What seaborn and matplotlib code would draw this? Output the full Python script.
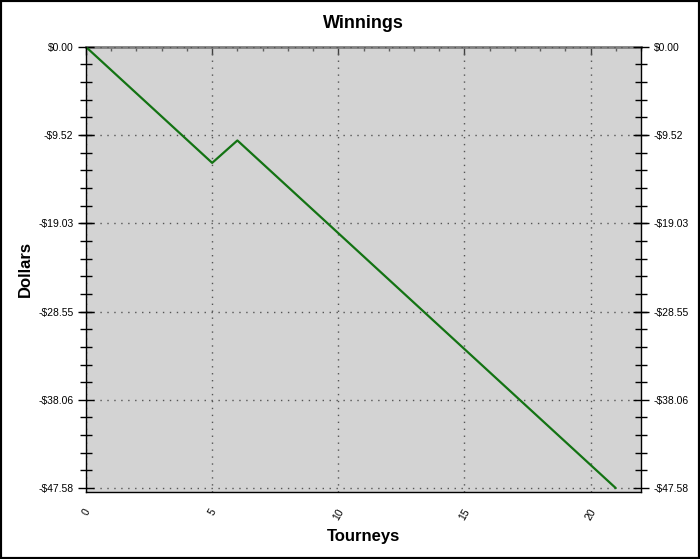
import pandas as pd
import matplotlib
matplotlib.use("Agg")
import matplotlib.pyplot as plt
from matplotlib.patches import Rectangle
from matplotlib.ticker import FixedLocator, MultipleLocator, AutoMinorLocator
import seaborn as sns

# Datos
tourneys = list(range(22))
winnings = [0.00, -2.50, -5.00, -7.50, -10.00, -12.50, -10.08, -12.58, -15.08,
            -17.58, -20.08, -22.58, -25.08, -27.58, -30.08, -32.58, -35.08,
            -37.58, -40.08, -42.58, -45.08, -47.58]
y_ticks = [0.00, -9.52, -19.03, -28.55, -38.06, -47.58]
y_labels = ["$0.00", "-$9.52", "-$19.03", "-$28.55", "-$38.06", "-$47.58"]
x_ticks = [0, 5, 10, 15, 20]

df = pd.DataFrame({"tourney": tourneys, "winnings": winnings})

sns.set_theme(style="white")
plt.rcParams["font.family"] = ["Liberation Sans", "DejaVu Sans"]
plt.rcParams["text.color"] = "black"
plt.rcParams["axes.labelcolor"] = "black"
plt.rcParams["xtick.color"] = "black"
plt.rcParams["ytick.color"] = "black"

fig = plt.figure(figsize=(7.0, 5.59), dpi=100)
ax = fig.add_axes([0.1229, 0.1199, 0.7928, 0.7960])
ax.set_facecolor("#d3d3d3")

sns.lineplot(x="tourney", y="winnings", data=df, color="#137313", linewidth=1.6, ax=ax)

ax.set_xlim(0, 22)
ax.set_ylim(-48.0, 0)

ax.xaxis.set_major_locator(FixedLocator(x_ticks))
ax.xaxis.set_minor_locator(MultipleLocator(1))
ax.yaxis.set_major_locator(FixedLocator(y_ticks))
ax.set_yticklabels(y_labels)
ax.yaxis.set_minor_locator(AutoMinorLocator(5))

ax.grid(True, which="major", linestyle=(0, (1, 4)), color="#555555", linewidth=1.0)
ax.set_axisbelow(True)

ax.tick_params(axis="both", which="major", direction="inout", length=11, width=1,
               labelsize=7.5)
ax.tick_params(axis="both", which="minor", direction="inout", length=8, width=1)
ax.tick_params(axis="x", which="major", pad=5)
plt.setp(ax.get_xticklabels(), rotation=60, ha="center", va="top")

# marcas del borde superior
top = ax.secondary_xaxis("top")
top.xaxis.set_major_locator(FixedLocator(x_ticks))
top.xaxis.set_minor_locator(MultipleLocator(1))
top.tick_params(which="major", direction="in", length=6, width=1, color="#404040",
                labeltop=False)
top.tick_params(which="minor", direction="in", length=3, width=1, color="#606060")
top.spines["top"].set_color("#808080")
top.spines["top"].set_linewidth(2.0)

for side in ["left", "bottom", "right"]:
    ax.spines[side].set_color("black")
    ax.spines[side].set_linewidth(1.0)
ax.spines["top"].set_visible(False)

# eje derecho
ax2 = ax.twinx()
ax2.set_ylim(ax.get_ylim())
ax2.yaxis.set_major_locator(FixedLocator(y_ticks))
ax2.set_yticklabels(y_labels)
ax2.yaxis.set_minor_locator(AutoMinorLocator(5))
ax2.tick_params(axis="y", which="major", direction="inout", length=11, width=1,
                labelsize=7.5)
ax2.tick_params(axis="y", which="minor", direction="inout", length=8, width=1)
for s in ax2.spines.values():
    s.set_visible(False)

ax.set_title("Winnings", fontsize=13, fontweight="bold", pad=14)
ax.set_xlabel("Tourneys", fontsize=12, fontweight="bold", labelpad=5)
ax.set_ylabel("Dollars", fontsize=12, fontweight="bold", labelpad=4)

fig.patches.append(Rectangle((0, 0), 1, 1, transform=fig.transFigure, fill=False,
                             edgecolor="black", linewidth=3))

fig.savefig("out.png", dpi=100)
